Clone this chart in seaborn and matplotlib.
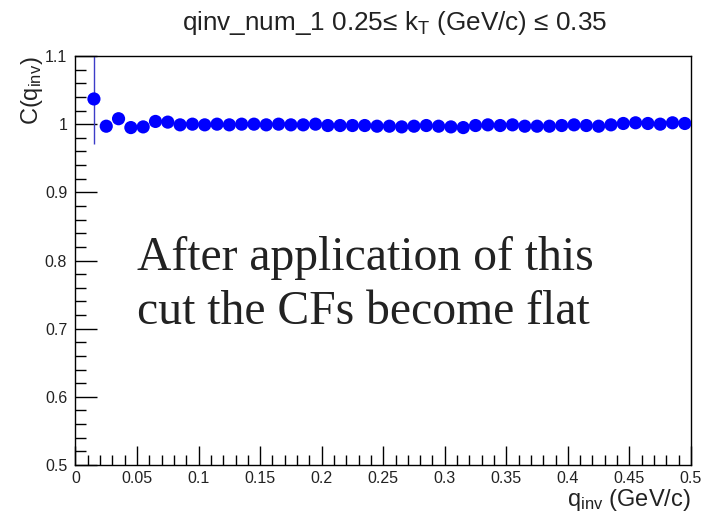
import numpy as np
import pandas as pd
import matplotlib
matplotlib.use("Agg")
import matplotlib.pyplot as plt
from matplotlib.ticker import MultipleLocator
import seaborn as sns

# Correlation function C(q_inv), bin centres in GeV/c
q_inv = [0.015, 0.025, 0.035, 0.045, 0.055, 0.065, 0.075, 0.085, 0.095, 0.105,
         0.115, 0.125, 0.135, 0.145, 0.155, 0.165, 0.175, 0.185, 0.195, 0.205,
         0.215, 0.225, 0.235, 0.245, 0.255, 0.265, 0.275, 0.285, 0.295, 0.305,
         0.315, 0.325, 0.335, 0.345, 0.355, 0.365, 0.375, 0.385, 0.395, 0.405,
         0.415, 0.425, 0.435, 0.445, 0.455, 0.465, 0.475, 0.485, 0.495]
cf = [1.037, 0.997, 1.008, 0.995, 0.996, 1.004, 1.003, 0.999, 1.000, 0.999,
      1.000, 0.999, 1.000, 1.000, 0.999, 1.000, 0.999, 0.999, 1.000, 0.998,
      0.998, 0.998, 0.998, 0.997, 0.997, 0.996, 0.997, 0.998, 0.997, 0.996,
      0.995, 0.998, 0.999, 0.998, 0.999, 0.997, 0.997, 0.997, 0.998, 0.999,
      0.998, 0.997, 0.999, 1.001, 1.002, 1.001, 1.000, 1.002, 1.001]
cf_err = [0.066] + [0.002] * 48

x_ticks = [0, 0.05, 0.1, 0.15, 0.2, 0.25, 0.3, 0.35, 0.4, 0.45, 0.5]
x_labels = ["0", "0.05", "0.1", "0.15", "0.2", "0.25", "0.3", "0.35", "0.4", "0.45", "0.5"]
y_ticks = [0.5, 0.6, 0.7, 0.8, 0.9, 1.0, 1.1]
y_labels = ["0.5", "0.6", "0.7", "0.8", "0.9", "1", "1.1"]

df = pd.DataFrame({"q": q_inv, "C": cf, "err": cf_err})

sns.set_theme(style="white")
plt.rcParams["font.family"] = ["Liberation Sans", "DejaVu Sans"]
plt.rcParams["mathtext.fontset"] = "custom"
plt.rcParams["mathtext.rm"] = "Liberation Sans"
plt.rcParams["mathtext.it"] = "Liberation Sans"
plt.rcParams["mathtext.sf"] = "Liberation Sans"

fig = plt.figure(figsize=(7.04, 5.18), dpi=100)
ax = fig.add_axes([0.1072, 0.1023, 0.8743, 0.7896])

ax.errorbar(df["q"], df["C"], yerr=df["err"], fmt="none",
            ecolor="#3c3cc8", elinewidth=1.0, capsize=0, zorder=2)
sns.scatterplot(data=df, x="q", y="C", ax=ax, color="#0000ff", s=90,
                marker="o", edgecolor="none", linewidth=0, zorder=3,
                legend=False)

ax.set_xlim(0, 0.5)
ax.set_ylim(0.5, 1.1)

ax.set_xticks(x_ticks)
ax.set_xticklabels(x_labels)
ax.set_yticks(y_ticks)
ax.set_yticklabels(y_labels)
ax.xaxis.set_minor_locator(MultipleLocator(0.01))
ax.yaxis.set_minor_locator(MultipleLocator(0.02))

ax.tick_params(axis="both", which="both", direction="in", color="black",
               labelsize=11.5, labelcolor="#222222",
               bottom=True, left=True, top=False, right=False)
ax.tick_params(axis="x", which="major", length=14, width=1, pad=4)
ax.tick_params(axis="x", which="minor", length=7, width=1)
ax.tick_params(axis="y", which="major", length=16, width=1, pad=6)
ax.tick_params(axis="y", which="minor", length=8, width=1)

for sp in ax.spines.values():
    sp.set_visible(True)
    sp.set_color("black")
    sp.set_linewidth(1.0)

ax.set_xlabel("")
ax.set_ylabel("")

fig.text(0.5604, 0.956, r"qinv_num_1 0.25≤ k$_{\mathrm{T}}$ (GeV/c) ≤ 0.35",
         ha="center", va="center", fontsize=18.8, color="#222222")
fig.text(0.9815, 0.035, r"q$_{\mathrm{inv}}$ (GeV/c)", ha="right", va="center",
         fontsize=17, color="#222222")
fig.text(0.045, 0.892, r"C(q$_{\mathrm{inv}}$)", ha="center", va="top",
         rotation=90, fontsize=17, color="#222222")

ax.text(0.1, 0.44, "After application of this\ncut the CFs become flat",
        transform=ax.transAxes, ha="left", va="center",
        family=["Liberation Serif", "DejaVu Serif"], fontsize=34.3,
        color="#222222", linespacing=1.3)

fig.savefig("out.png", dpi=100)
